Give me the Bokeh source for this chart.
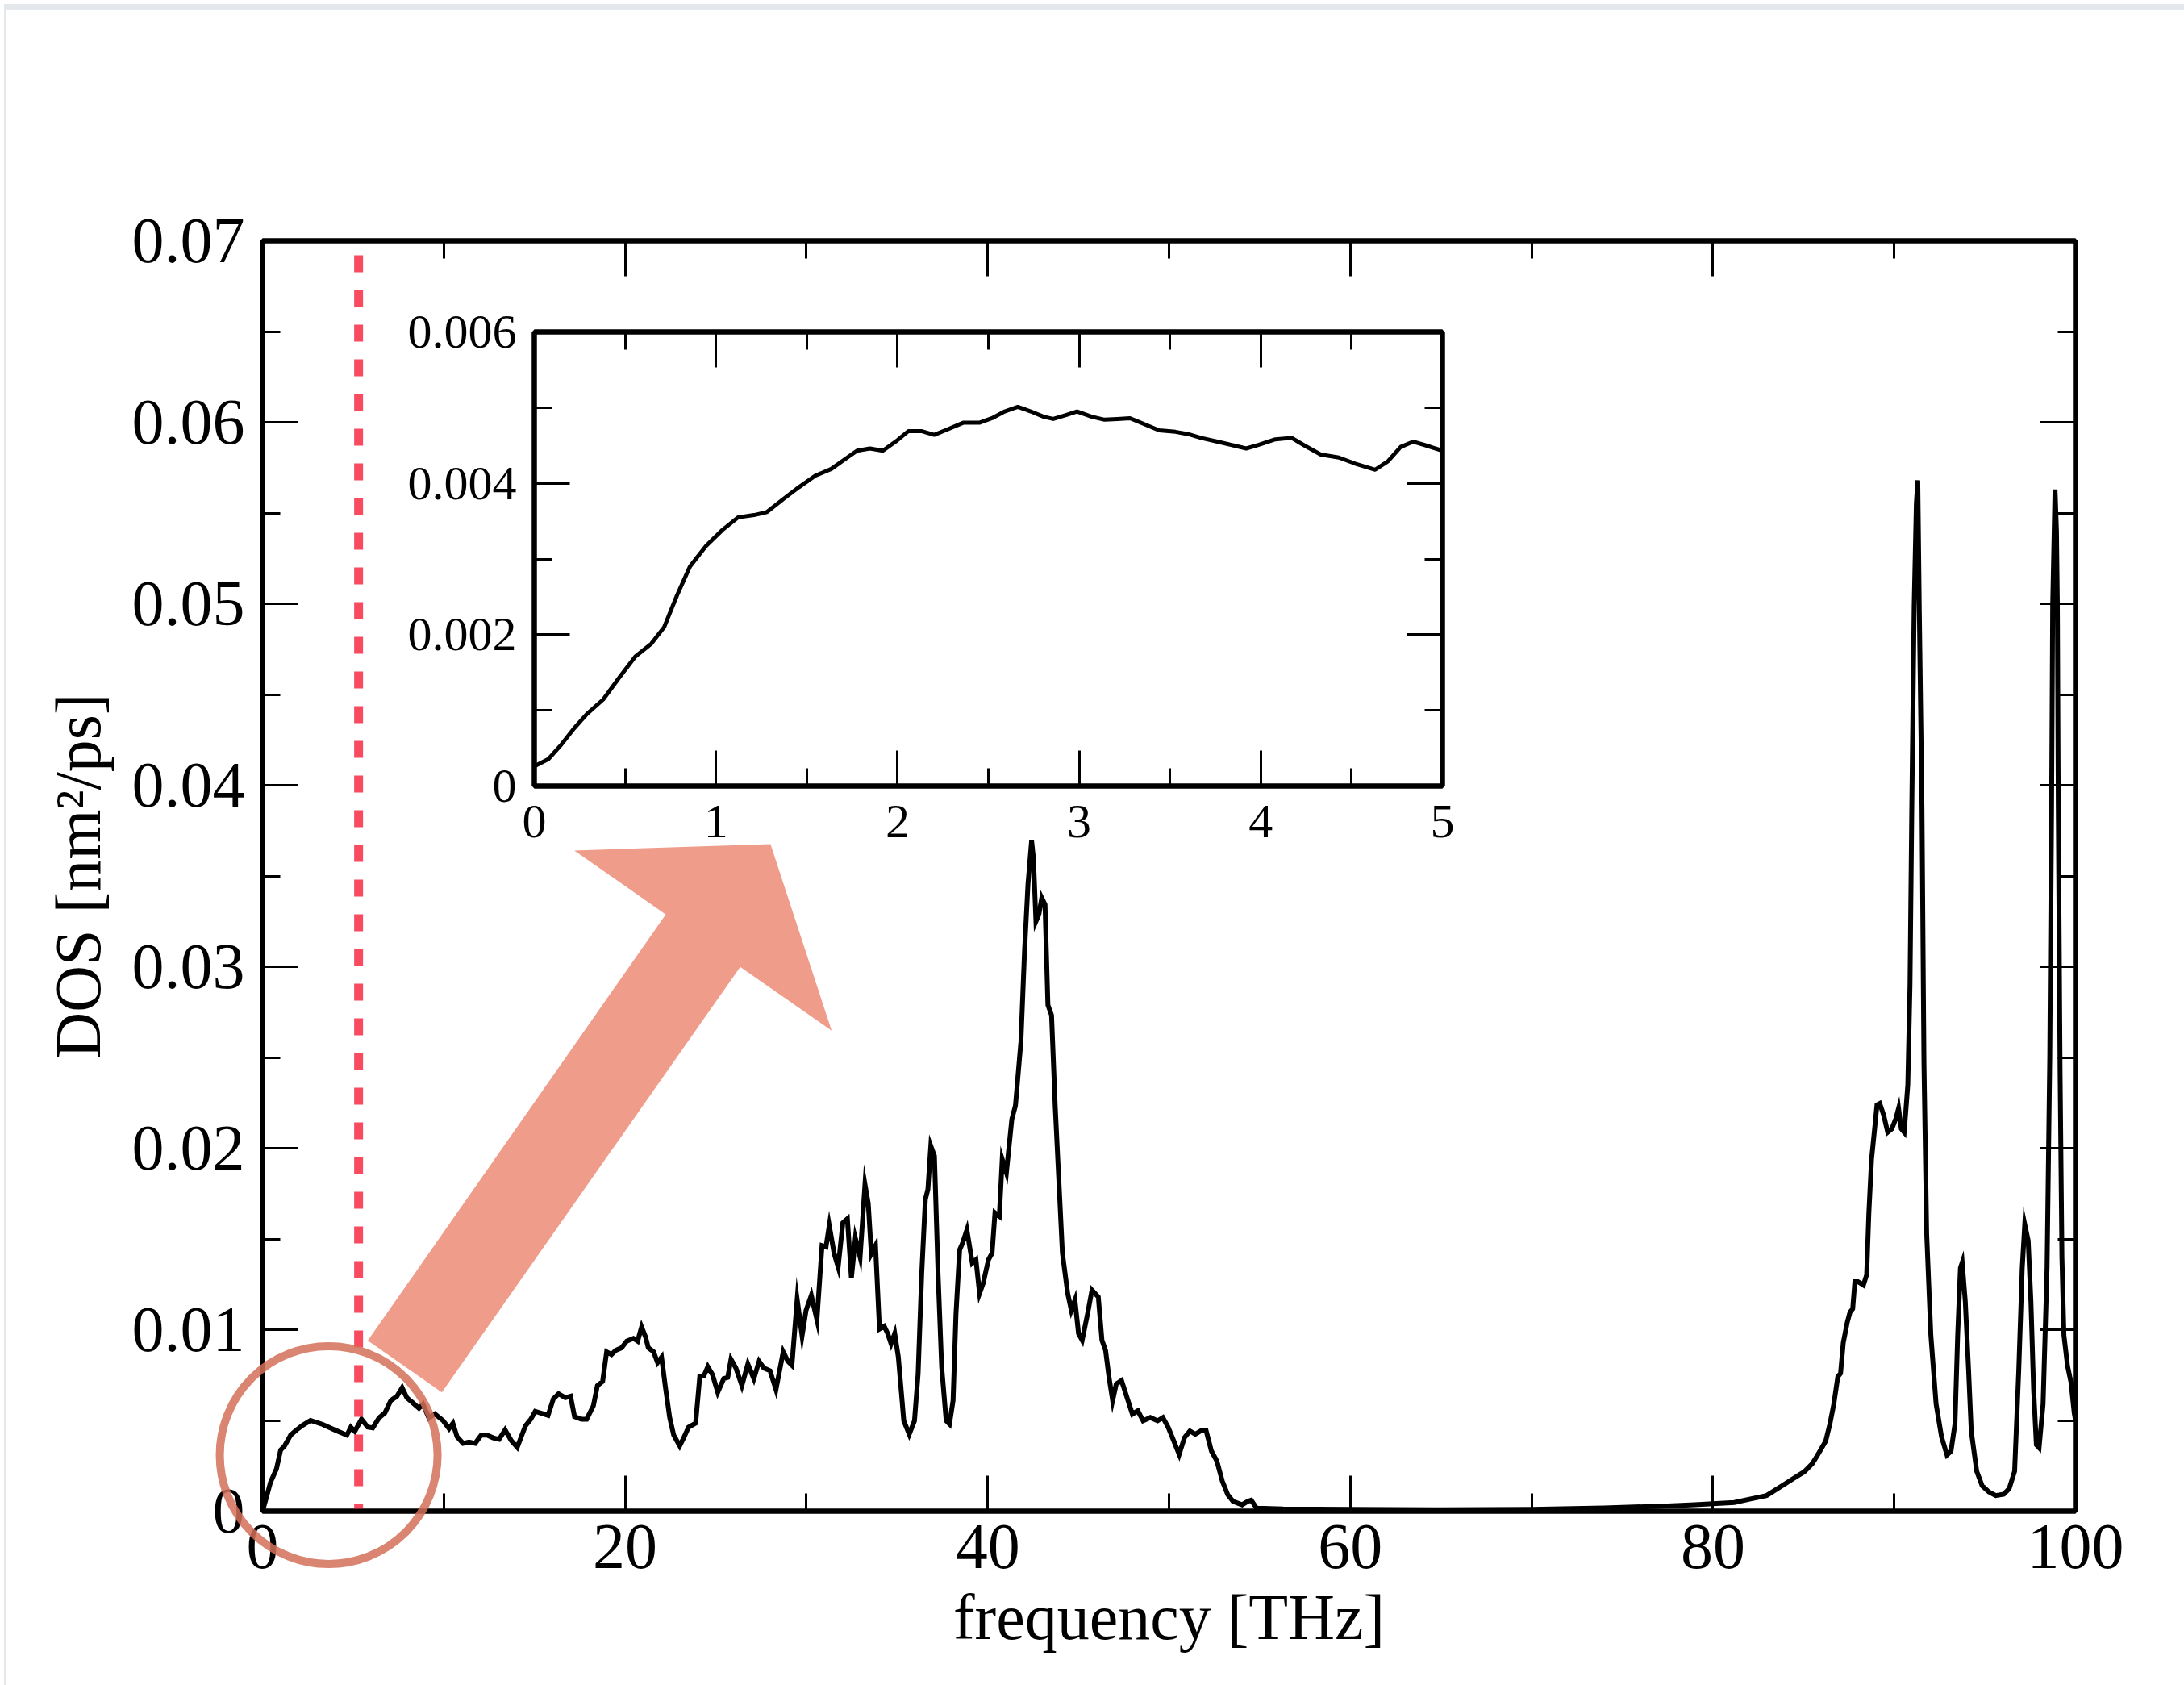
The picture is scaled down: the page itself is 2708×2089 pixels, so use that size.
import numpy as np
from bokeh.plotting import figure
from bokeh.models import (Range1d, LinearAxis, FixedTicker, CustomJSTickFormatter,
                          CustomLabelingPolicy, Div)
from bokeh.embed import file_html
from bokeh.resources import INLINE

# ---------------- data (DOS given in units of 1e-3 nm^2/ps) ----------------
main_freq = [0.0, 0.2, 0.44, 0.77, 1.0, 1.22, 1.55, 1.88, 2.21, 2.65, 3.32, 3.98, 4.65, 4.87, 5.09,
             5.46, 5.8, 6.08, 6.42, 6.75, 7.08, 7.41, 7.7, 7.96, 8.3, 8.63, 8.85, 9.18, 9.51, 9.96,
             10.29, 10.5, 10.73, 11.06, 11.39, 11.73, 12.06, 12.39, 12.72, 13.05, 13.38, 13.72, 14.05,
             14.5, 14.8, 15.04, 15.49, 15.75, 16.04, 16.33, 16.7, 16.99, 17.21, 17.59, 17.88, 18.25,
             18.47, 18.76, 18.98, 19.25, 19.47, 19.8, 20.09, 20.46, 20.69, 20.91, 21.13, 21.28, 21.57,
             21.79, 22.01, 22.23, 22.46, 22.68, 23.01, 23.23, 23.5, 23.89, 24.12, 24.34, 24.56, 24.82,
             25.11, 25.44, 25.66, 25.84, 26.11, 26.44, 26.77, 27.1, 27.39, 27.65, 27.99, 28.32, 28.72,
             28.98, 29.2, 29.49, 29.76, 29.98, 30.27, 30.58, 30.86, 31.08, 31.26, 31.53, 31.75, 32.01,
             32.26, 32.48, 32.7, 32.96, 33.23, 33.41, 33.58, 33.81, 34.03, 34.29, 34.48, 34.67, 34.87,
             35.07, 35.37, 35.67, 35.96, 36.16, 36.36, 36.56, 36.7, 36.86, 37.06, 37.26, 37.46, 37.71,
             37.89, 38.09, 38.25, 38.45, 38.61, 38.85, 39.15, 39.35, 39.55, 39.75, 40.04, 40.24, 40.4,
             40.64, 40.8, 41.03, 41.33, 41.53, 41.83, 42.03, 42.22, 42.42, 42.52, 42.66, 42.82, 42.98,
             43.16, 43.32, 43.52, 43.72, 43.92, 44.12, 44.41, 44.61, 44.81, 45.01, 45.21, 45.51, 45.75,
             46.1, 46.3, 46.5, 46.69, 46.89, 47.09, 47.38, 47.68, 47.98, 48.28, 48.57, 48.97, 49.37,
             49.66, 49.96, 50.26, 50.56, 50.85, 51.15, 51.45, 51.75, 52.05, 52.34, 52.64, 52.94, 53.24,
             53.53, 54.03, 54.33, 54.53, 54.83, 56.3, 60.0, 65.0, 70.0, 74.0, 77.0, 79.0, 81.18, 82.07,
             82.96, 83.85, 84.44, 85.04, 85.48, 85.78, 86.22, 86.45, 86.67, 86.89, 87.04, 87.19, 87.41,
             87.56, 87.71, 87.83, 88.0, 88.3, 88.48, 88.6, 88.75, 88.9, 89.05, 89.2, 89.42, 89.64,
             89.87, 90.09, 90.24, 90.39, 90.55, 90.75, 90.87, 90.97, 91.1, 91.22, 91.3, 91.38, 91.53,
             91.64, 91.79, 92.02, 92.31, 92.61, 92.91, 93.13, 93.35, 93.5, 93.65, 93.75, 93.92, 94.1,
             94.25, 94.55, 94.85, 95.22, 95.6, 96.04, 96.34, 96.64, 96.87, 97.06, 97.2, 97.39, 97.54,
             97.69, 97.84, 97.99, 98.21, 98.43, 98.58, 98.68, 98.74, 98.87, 98.95, 99.0, 99.05, 99.15,
             99.25, 99.36, 99.56, 99.75, 99.93, 100.0]
main_dos = [0.0, 0.7, 1.59, 2.33, 3.37, 3.6, 4.19, 4.48, 4.73, 5.0, 4.78, 4.48, 4.19, 4.63, 4.4,
            5.07, 4.63, 4.59, 5.13, 5.42, 6.1, 6.33, 6.8, 6.25, 5.96, 5.67, 5.89, 5.13, 5.36, 4.99,
            4.55, 4.84, 4.1, 3.74, 3.81, 3.74, 4.19, 4.19, 4.04, 3.96, 4.48, 3.89, 3.52,
            4.7, 5.07, 5.5, 5.36, 5.28, 6.18, 6.47, 6.25, 6.33, 5.21, 5.07, 5.07, 5.81,
            6.92, 7.15, 8.78, 8.63, 8.85, 9.0, 9.37, 9.52, 9.37, 10.15, 9.59, 9.0, 8.78,
            8.19, 8.48, 6.78, 5.15, 4.19, 3.6, 4.04, 4.63, 4.85, 7.44, 7.44, 7.96, 7.52,
            6.55, 7.3, 7.37, 8.37, 7.89, 6.92, 8.11, 7.3, 8.26, 7.89, 7.74, 6.7, 8.78,
            8.26, 8.04, 11.67, 9.67, 11.07, 11.89, 10.55, 14.63, 14.56, 15.74, 14.19, 13.45, 15.89,
            16.11, 12.85, 15.04, 14.0, 18.0, 16.96, 14.19, 14.63, 10.04, 10.19, 9.79, 9.23, 9.79,
            8.49, 4.98, 4.24, 4.98, 7.57, 13.11, 17.18, 17.73, 20.13, 19.58, 13.11, 7.94, 4.98,
            4.8, 6.1, 10.89, 14.4, 14.77, 15.5, 13.67, 13.85, 12.0, 12.56, 13.85, 14.22, 16.44,
            16.25, 19.39, 18.65, 21.6, 22.35, 25.86, 30.84, 34.54, 36.94, 36.0, 32.5, 32.87, 33.79,
            33.42, 27.89, 27.33, 22.35, 18.28, 14.22, 12.0, 11.07, 11.63, 9.79, 9.42, 10.89, 12.18,
            11.8, 9.42, 8.86, 7.38, 6.1, 7.01, 7.2, 6.27, 5.35, 5.53, 4.98, 5.16, 4.98,
            5.16, 4.61, 3.87, 3.13, 4.05, 4.42, 4.24, 4.42, 4.42, 3.31, 2.76, 1.65, 0.91,
            0.54, 0.35, 0.54, 0.61, 0.17, 0.12, 0.1, 0.08, 0.1, 0.18, 0.27, 0.36, 0.48, 0.67,
            0.86, 1.42, 1.8, 2.17, 2.62, 3.1, 3.86, 4.79, 5.91, 7.41, 7.6, 9.28, 10.4,
            10.96, 11.15, 12.65, 12.65, 12.46, 13.02, 16.39, 19.39, 20.88, 22.38, 22.46, 21.82, 20.88,
            21.07, 21.63, 22.19, 21.07, 20.88, 23.5, 29.0, 38.8, 49.9, 55.5, 56.8, 49.9, 38.8,
            24.7, 15.3, 9.7, 5.9, 4.1, 3.1, 3.3, 4.8, 9.7, 13.4, 13.7, 11.55, 7.8,
            4.4, 2.2, 1.4, 1.06, 0.86, 0.94, 1.24, 2.2, 7.8, 13.4, 15.8, 14.9, 11.55,
            6.7, 3.66, 3.5, 5.9, 13.4, 25.0, 38.8, 49.9, 56.3, 54.0, 49.9, 38.8, 24.0,
            14.0, 9.7, 8.0, 7.1, 5.4, 5.0]

inset_freq = [0.0, 0.078, 0.149, 0.219, 0.29, 0.379, 0.467, 0.556, 0.644, 0.715, 0.786, 0.857, 0.945,
              1.034, 1.122, 1.21, 1.281, 1.37, 1.458, 1.547, 1.635, 1.706, 1.777, 1.848, 1.919, 1.989,
              2.06, 2.131, 2.202, 2.273, 2.361, 2.45, 2.52, 2.59, 2.662, 2.733, 2.804, 2.857, 2.927,
              2.988, 3.069, 3.14, 3.21, 3.28, 3.35, 3.44, 3.53, 3.6, 3.67, 3.76, 3.85, 3.92, 3.99,
              4.08, 4.17, 4.24, 4.33, 4.43, 4.52, 4.63, 4.7, 4.77, 4.84, 4.91, 5.0]
inset_dos = [0.26, 0.357, 0.548, 0.762, 0.952, 1.143, 1.43, 1.71, 1.88, 2.1, 2.52, 2.9, 3.17,
             3.38, 3.55, 3.58, 3.62, 3.79, 3.95, 4.1, 4.19, 4.31, 4.43, 4.46, 4.43, 4.55,
             4.69, 4.69, 4.64, 4.71, 4.8, 4.8, 4.86, 4.95, 5.01, 4.95, 4.88, 4.85, 4.9,
             4.95, 4.88, 4.84, 4.85, 4.86, 4.79, 4.7, 4.68, 4.65, 4.6, 4.55, 4.5, 4.46, 4.51,
             4.58, 4.6, 4.5, 4.38, 4.34, 4.26, 4.18, 4.29, 4.48, 4.55, 4.5, 4.43]

x_major = [0, 20, 40, 60, 80, 100]
x_minor = [10, 30, 50, 70, 90]
y_major = [0, 0.01, 0.02, 0.03, 0.04, 0.05, 0.06, 0.07]
y_minor = [0.005, 0.015, 0.025, 0.035, 0.045, 0.055, 0.065]
inset_x_major = [0, 1, 2, 3, 4, 5]
inset_x_minor = [0.5, 1.5, 2.5, 3.5, 4.5]
inset_y_major = [0, 0.002, 0.004, 0.006]
inset_y_minor = [0.001, 0.003, 0.005]

x_label = "frequency [THz]"
y_label = "DOS [nm\u00b2/ps]"

# ---------------- annotation geometry (data coordinates of the main plot) ----------------
marker_freq = 5.3
marker_top = 0.0692
arrow_x = [5.805, 22.24, 17.2, 28.02, 31.39, 26.35, 9.89]
arrow_y = [0.0094, 0.03288, 0.0364, 0.03676, 0.02648, 0.02999, 0.006547]
ring_x = [3.65]
ring_y = [0.00309]

FONT = "Liberation Serif"
fmt = CustomJSTickFormatter(code="return tick == 0 ? '0' : String(parseFloat(tick.toPrecision(6)));")

# page / frame geometry (pixels)
W, H = 2708, 2089
ML, MR, MT, MB = 325, 135, 298, 216
X0, X1, Y0, Y1 = 0, 100, 0, 0.07


def make_axis(ticker, show, size, standoff):
    ax = LinearAxis(ticker=ticker, formatter=fmt)
    ax.axis_line_width = 6
    ax.axis_line_color = "black"
    ax.major_tick_in = 44
    ax.major_tick_out = 0
    ax.minor_tick_in = 22
    ax.minor_tick_out = 0
    ax.major_tick_line_width = 3
    ax.minor_tick_line_width = 3
    ax.major_tick_line_color = "black"
    ax.minor_tick_line_color = "black"
    ax.major_label_text_font = FONT
    ax.major_label_text_color = "black"
    if show:
        ax.major_label_text_font_size = f"{size}px"
        ax.major_label_standoff = standoff
    else:
        ax.major_label_policy = CustomLabelingPolicy(code="return []")
        ax.major_label_text_font_size = "10px"
        ax.major_label_standoff = 0
    ax.axis_label_text_font = FONT
    ax.axis_label_text_font_style = "normal"
    ax.axis_label_text_color = "black"
    return ax


# ---------------- main figure ----------------
p = figure(width=W, height=H, x_range=Range1d(X0, X1), y_range=Range1d(Y0, Y1),
           x_axis_type=None, y_axis_type=None, output_backend="svg", toolbar_location=None,
           min_border_left=ML, min_border_right=MR, min_border_top=MT, min_border_bottom=MB,
           background_fill_color="white", border_fill_color="white",
           outline_line_color="black", outline_line_width=6)
p.styles = {"position": "absolute", "left": "0px", "top": "0px", "z-index": "0"}

xt = FixedTicker(ticks=x_major, minor_ticks=x_minor)
yt = FixedTicker(ticks=y_major, minor_ticks=y_minor)
xb = make_axis(xt, True, 80, 17)
xb.axis_label = x_label
xb.axis_label_text_font_size = "80px"
xb.axis_label_standoff = 14
yl = make_axis(yt, True, 80, 22)
yl.axis_label = y_label
yl.axis_label_text_font_size = "80px"
yl.axis_label_standoff = 20
p.add_layout(xb, "below")
p.add_layout(yl, "left")
p.add_layout(make_axis(xt, False, 0, 0), "above")
p.add_layout(make_axis(yt, False, 0, 0), "right")

dos_main = np.array(main_dos) * 1e-3
p.line(main_freq, dos_main, line_color="black", line_width=6, line_join="miter")

p.segment(x0=[marker_freq], y0=[marker_top], x1=[marker_freq], y1=[0],
          line_color="#F84B5F", line_width=11, line_dash="21 22")

p.patch(arrow_x, arrow_y, fill_color="#F09C8B", line_color=None)

# ---------------- transparent overlay sharing the main plot's data coordinates ----------------
sx = (W - ML - MR) / (X1 - X0)
sy = (H - MT - MB) / (Y1 - Y0)
ov = figure(width=W, height=H,
            x_range=Range1d(X0 - ML / sx, X1 + MR / sx), y_range=Range1d(Y0 - MB / sy, Y1 + MT / sy),
            x_axis_type=None, y_axis_type=None, output_backend="svg", toolbar_location=None,
            min_border_left=0, min_border_right=0, min_border_top=0, min_border_bottom=0,
            background_fill_color=None, border_fill_color=None, outline_line_color=None)
ov.styles = {"position": "absolute", "left": "0px", "top": "0px", "z-index": "1"}
ov.scatter(ring_x, ring_y, marker="circle", size=270, fill_color=None,
           line_color="#D27058", line_alpha=0.85, line_width=10)

# ---------------- inset figure ----------------
L, T, R, B = 200, 60, 40, 100
FW, FH = 1126, 563
inset = figure(width=L + FW + R, height=T + FH + B, x_range=Range1d(0, 5), y_range=Range1d(0, 0.006),
               x_axis_type=None, y_axis_type=None, output_backend="svg", toolbar_location=None,
               min_border_left=L, min_border_right=R, min_border_top=T, min_border_bottom=B,
               background_fill_color="white", border_fill_color=None,
               outline_line_color="black", outline_line_width=6)
inset.styles = {"position": "absolute", "left": f"{662 - L}px", "top": f"{411 - T}px", "z-index": "2"}

ixt = FixedTicker(ticks=inset_x_major, minor_ticks=inset_x_minor)
iyt = FixedTicker(ticks=inset_y_major, minor_ticks=inset_y_minor)
inset.add_layout(make_axis(ixt, True, 60, 24), "below")
inset.add_layout(make_axis(iyt, True, 60, 22), "left")
inset.add_layout(make_axis(ixt, False, 0, 0), "above")
inset.add_layout(make_axis(iyt, False, 0, 0), "right")

inset.line(inset_freq, np.array(inset_dos) * 1e-3, line_color="black", line_width=5, line_join="round")

# thin grey page edge seen at the top and left of the reference
top_edge = Div(text="", width=W, height=7,
               styles={"position": "absolute", "left": "0px", "top": "0px",
                       "background-color": "#E4E7EB", "z-index": "3"})
left_edge = Div(text="", width=3, height=H - 7,
                styles={"position": "absolute", "left": "0px", "top": "7px",
                        "background-color": "#E4E7EB", "z-index": "3"})

open("out.html", "w").write(file_html([p, ov, inset, top_edge, left_edge], INLINE, title="DOS"))
